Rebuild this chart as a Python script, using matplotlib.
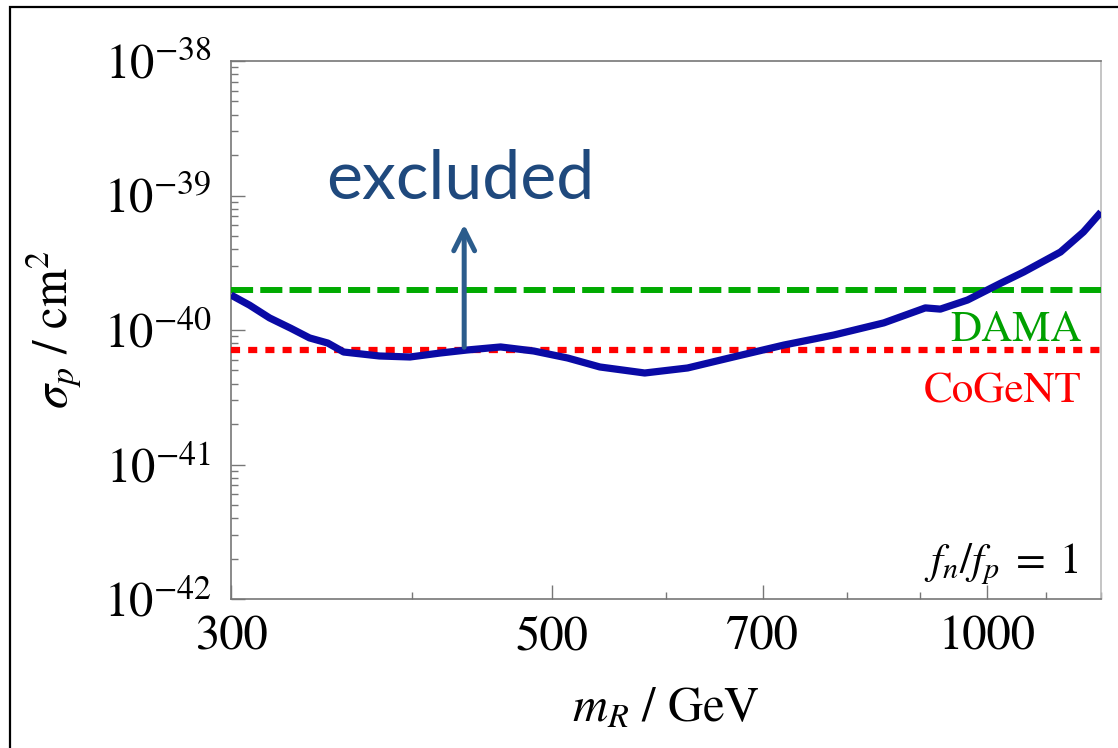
import matplotlib
matplotlib.use('Agg')
import matplotlib.pyplot as plt
from matplotlib.patches import Rectangle
from matplotlib.ticker import FixedLocator, FixedFormatter, LogLocator, NullFormatter

# exclusion curve (mass in GeV, cross section in cm^2)
mass = [300, 309, 319, 330, 340, 350, 359, 380, 399, 419, 437, 461, 486, 513,
        540, 580, 621, 668, 724, 784, 849, 907, 929, 970, 1023, 1061, 1125, 1167, 1200]
sigma = [1.82e-40, 1.53e-40, 1.23e-40, 1.03e-40, 8.73e-41, 8.0e-41, 6.86e-41,
         6.41e-41, 6.3e-41, 6.75e-41, 7.1e-41, 7.48e-41, 6.98e-41, 6.19e-41,
         5.31e-41, 4.79e-41, 5.22e-41, 6.3e-41, 7.73e-41, 9.18e-41, 1.13e-40,
         1.46e-40, 1.43e-40, 1.67e-40, 2.23e-40, 2.70e-40, 3.80e-40, 5.36e-40, 7.53e-40]

dama_level = 2.0e-40
cogent_level = 7.1e-41

arrow_mass = 435
arrow_from = 7.1e-41
arrow_to = 6.4e-40

x_ticks = [300, 500, 700, 1000]
x_minor = [400, 600, 800, 900, 1100, 1200]
y_ticks = [1e-42, 1e-41, 1e-40, 1e-39, 1e-38]
y_labels = [r'$10^{-42}$', r'$10^{-41}$', r'$10^{-40}$', r'$10^{-39}$', r'$10^{-38}$']

plt.rcParams['mathtext.fontset'] = 'stix'
plt.rcParams['font.family'] = 'STIXGeneral'

fig = plt.figure(figsize=(11.18, 7.48), dpi=100)
ax = fig.add_axes([231 / 1118, 149 / 748, 870 / 1118, 538 / 748])

ax.plot(mass, sigma, color='#0a0aa5', lw=5.2, solid_capstyle='butt', zorder=4)
ax.axhline(dama_level, color='#00aa00', lw=4.3, dashes=(3.7, 1.2), dash_capstyle='butt', zorder=3)
ax.axhline(cogent_level, color='#ff0000', lw=4.5, dashes=(1.45, 1.3), dash_capstyle='butt', zorder=3)

ax.annotate('', xy=(arrow_mass, arrow_to), xytext=(arrow_mass, arrow_from),
            arrowprops=dict(arrowstyle='->,head_length=1.5,head_width=0.75',
                            color='#2b5c8c', lw=3.6), zorder=5)
ax.text(432, 9.57e-40, 'excluded', family='Lato', fontsize=49, color='#1f497d',
        ha='center', va='baseline')

ax.text(0.978, 0.4796, 'DAMA', transform=ax.transAxes, color='#00a000',
        fontsize=31, ha='right', va='baseline')
ax.text(0.978, 0.366, 'CoGeNT', transform=ax.transAxes, color='#ff0000',
        fontsize=31, ha='right', va='baseline')
ax.text(0.9736, 0.0483, r'$f_n/f_p\;=\;1$', transform=ax.transAxes, color='black',
        fontsize=31, ha='right', va='baseline')

ax.set_xscale('log')
ax.set_yscale('log')
ax.set_xlim(300, 1200)
ax.set_ylim(1e-42, 1e-38)

ax.xaxis.set_major_locator(FixedLocator(x_ticks))
ax.xaxis.set_major_formatter(FixedFormatter([str(t) for t in x_ticks]))
ax.xaxis.set_minor_locator(FixedLocator(x_minor))
ax.xaxis.set_minor_formatter(NullFormatter())
ax.yaxis.set_major_locator(FixedLocator(y_ticks))
ax.yaxis.set_major_formatter(FixedFormatter(y_labels))
ax.yaxis.set_minor_locator(LogLocator(base=10, subs=range(2, 10)))
ax.yaxis.set_minor_formatter(NullFormatter())

ax.tick_params(which='both', direction='in', color='#777777', width=1,
               top=False, right=False, labelsize=35)
ax.tick_params(which='major', length=10)
ax.tick_params(which='minor', length=5)
ax.tick_params(axis='x', pad=12)
ax.tick_params(axis='y', pad=14)

for side in ['left', 'bottom', 'top']:
    ax.spines[side].set_color('#777777')
    ax.spines[side].set_linewidth(1.2)
ax.spines['right'].set_color('#bbbbbb')
ax.spines['right'].set_linewidth(1.2)

ax.set_xlabel(r'$m_R\ /\ \mathrm{GeV}$', fontsize=35)
ax.set_ylabel(r'$\sigma_p\ /\ \mathrm{cm}^2$', fontsize=35)
ax.xaxis.set_label_coords(0.5, -0.165)
ax.yaxis.set_label_coords(-0.17, 0.5)

# slide frame around the figure
fig.add_artist(Rectangle((10 / 1118, -0.1), 1.2, 0.1 + 741 / 748,
                         transform=fig.transFigure, fill=False,
                         edgecolor='black', lw=1.6))

fig.savefig('out.png', dpi=100)
